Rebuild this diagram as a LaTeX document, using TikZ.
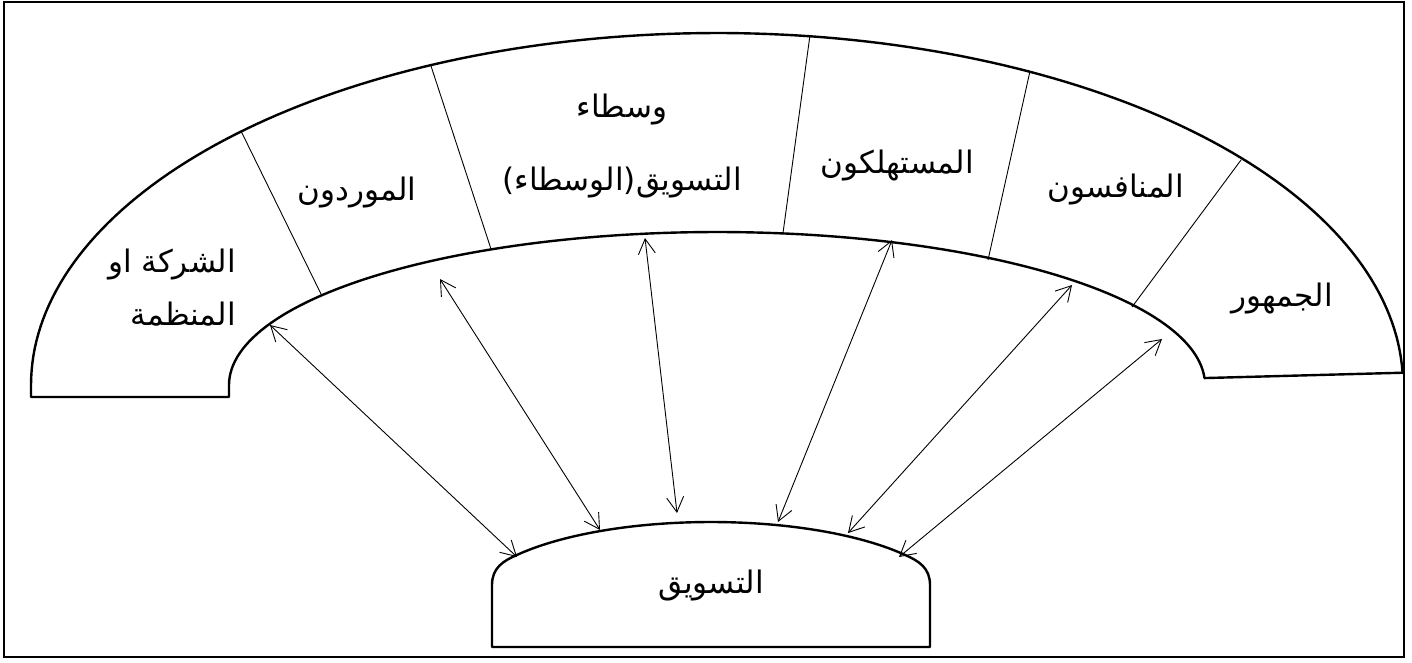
\documentclass[tikz,border=0pt]{standalone}
\usepackage{fontspec}
\usetikzlibrary{arrows.meta}
\newfontfamily\arabicfont[Script=Arabic]{DejaVu Sans}
\TeXXeTstate=1
\begin{document}
\begin{tikzpicture}[x=1pt,y=-1pt,
  frame/.style={draw=black,line width=2pt},
  bold/.style={draw=black,line width=2.4pt,line join=round},
  divider/.style={draw=black,line width=0.9pt},
  link/.style={draw=black,line width=0.9pt,{Straight Barb[length=15pt,width=17pt]}-{Straight Barb[length=15pt,width=17pt]}},
  lbl/.style={font=\arabicfont\fontsize{31}{53}\selectfont,inner sep=0pt,align=center}
]
\useasboundingbox (0,0) rectangle (1412,662);
\draw[frame] (4,2) rectangle (1404,657);

% arch band
\draw[bold] (31,397) -- (31,385)
  -- plot[domain=180:2,samples=150] ({717+686*cos(\x)},{385-352*sin(\x)})
  -- plot[domain=2.6:180,samples=120] ({717+488*cos(\x)},{385-153*sin(\x)})
  -- (229,397) -- cycle;

% dividers
\draw[divider] (241,131) -- (322,296);
\draw[divider] (431,66) -- (491,249);
\draw[divider] (810,35) -- (783,233);
\draw[divider] (1030,71) -- (988,260);
\draw[divider] (1241,160) -- (1132,307);

% bottom box
\draw[bold] (492,647) -- (492,585) .. controls (492,568) and (503,561) .. (516.8,555)
  -- plot[domain=144:36,samples=80] ({711+240*cos(\x)},{602-80*sin(\x)})
  .. controls (919,561) and (930,568) .. (930,585) -- (930,647) -- cycle;

% labels
\node[lbl,anchor=east,align=right] (org) at (236,288) {\beginR الشركة او\endR\\\beginR المنظمة\endR};
\node[lbl] (sup) at (357,193) {\beginR الموردون\endR};
\node[lbl,font=\arabicfont\fontsize{31}{73}\selectfont] (mid) at (622,146) {\beginR وسطاء\endR\\\beginR التسويق(الوسطاء)\endR};
\node[lbl] (con) at (897,166) {\beginR المستهلكون\endR};
\node[lbl] (com) at (1116,190) {\beginR المنافسون\endR};
\node[lbl] (pub) at (1282,298) {\beginR الجمهور\endR};
\node[lbl] (mkt) at (711,586) {\beginR التسويق\endR};

% arrow end points
\coordinate (t1) at (270,325);
\coordinate (t2) at (440,279);
\coordinate (t3) at (645,238);
\coordinate (t4) at (892,240);
\coordinate (t5) at (1072,285);
\coordinate (t6) at (1162,339);
\coordinate (b1) at (517,557);
\coordinate (b2) at (600,530);
\coordinate (b3) at (677,513);
\coordinate (b4) at (778,522);
\coordinate (b5) at (848,533);
\coordinate (b6) at (899,557);
\foreach \i in {1,...,6} \draw[link] (b\i) -- (t\i);
\end{tikzpicture}
\end{document}
